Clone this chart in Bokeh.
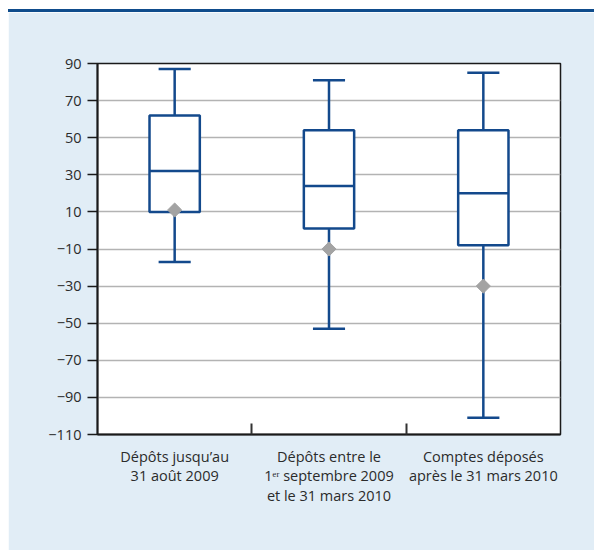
from bokeh.plotting import figure
from bokeh.layouts import column
from bokeh.models import Div, FixedTicker
from bokeh.embed import file_html
from bokeh.resources import INLINE

# Box-plot statistics per group
categories = [
    "Dépôts jusqu’au\n31 août 2009",
    "Dépôts entre le\n1ᵉʳ septembre 2009\net le 31 mars 2010",
    "Comptes déposés\naprès le 31 mars 2010",
]
lower = [-17, -53, -101]
q1 = [10, 1, -8]
median = [32, 24, 20]
q3 = [62, 54, 54]
upper = [87, 81, 85]
mean = [11, -10, -30]
y_ticks = [90, 70, 50, 30, 10, -10, -30, -50, -70, -90, -110]

BLUE = "#13498c"
BG = "#e1edf6"
FONT = "Open Sans"
TEXT = "#2b2b2b"

xs = [i + 1 for i in range(len(categories))]
half_box = 0.163
half_cap = 0.104

p = figure(
    width=586, height=538,
    x_range=(0.5, len(categories) + 0.5), y_range=(-110, 90),
    output_backend="svg", toolbar_location=None,
    min_border_left=89, min_border_right=34,
    min_border_top=51, min_border_bottom=116,
    border_fill_color=BG, background_fill_color="white",
)
p.margin = (0, 0, 0, 8)
p.outline_line_color = "#1a1a1a"
p.outline_line_width = 1.5

# grid
p.xgrid.grid_line_color = None
p.ygrid.grid_line_color = "#b3b3b3"
p.ygrid.grid_line_width = 1.5

# y axis
p.yaxis.ticker = FixedTicker(ticks=y_ticks)
p.yaxis.major_label_overrides = {t: str(t).replace("-", "\u2212") for t in y_ticks}
p.yaxis.major_tick_out = 10
p.yaxis.major_tick_in = 0
p.yaxis.minor_tick_line_color = None
p.yaxis.major_label_standoff = 6

# x axis: labels centred on groups, ticks on group boundaries
p.xaxis.ticker = FixedTicker(ticks=xs, minor_ticks=[x + 0.5 for x in xs[:-1]])
p.xaxis.major_label_overrides = {x: c for x, c in zip(xs, categories)}
p.xaxis.major_tick_line_color = None
p.xaxis.minor_tick_in = 11
p.xaxis.minor_tick_out = 0
p.xaxis.minor_tick_line_color = "#333333"
p.xaxis.minor_tick_line_width = 2
p.xaxis.major_label_standoff = 6
p.xaxis.major_label_text_line_height = 1.05

for ax in (p.xaxis, p.yaxis):
    ax.axis_line_color = "#1a1a1a"
    ax.axis_line_width = 2
    ax.major_label_text_font = FONT
    ax.major_label_text_font_size = "14.5px"
    ax.major_label_text_color = TEXT
p.yaxis.major_tick_line_width = 1.5
p.yaxis.major_tick_line_color = "#1a1a1a"

# whiskers and caps
p.segment(xs, q3, xs, upper, line_color=BLUE, line_width=2.5)
p.segment(xs, q1, xs, lower, line_color=BLUE, line_width=2.5)
p.segment([x - half_cap for x in xs], upper, [x + half_cap for x in xs], upper,
          line_color=BLUE, line_width=2.5)
p.segment([x - half_cap for x in xs], lower, [x + half_cap for x in xs], lower,
          line_color=BLUE, line_width=2.5)

# boxes and medians
p.quad(left=[x - half_box for x in xs], right=[x + half_box for x in xs],
       bottom=q1, top=q3, fill_color="white", line_color=BLUE, line_width=2.5)
p.segment([x - half_box for x in xs], median, [x + half_box for x in xs], median,
          line_color=BLUE, line_width=2.5)

# means
p.scatter(xs, mean, marker="square", angle=0.785398, size=10,
          fill_color="#a3a3a3", line_color="#a3a3a3")

# rule across the top of the panel
top = Div(text="", width=586, height=3, margin=(9, 0, 0, 8),
          styles={"background-color": "#0f4c8c"})
layout = column(top, p, spacing=0, margin=(0, 0, 0, 0))

open("out.html", "w").write(file_html(layout, INLINE))
